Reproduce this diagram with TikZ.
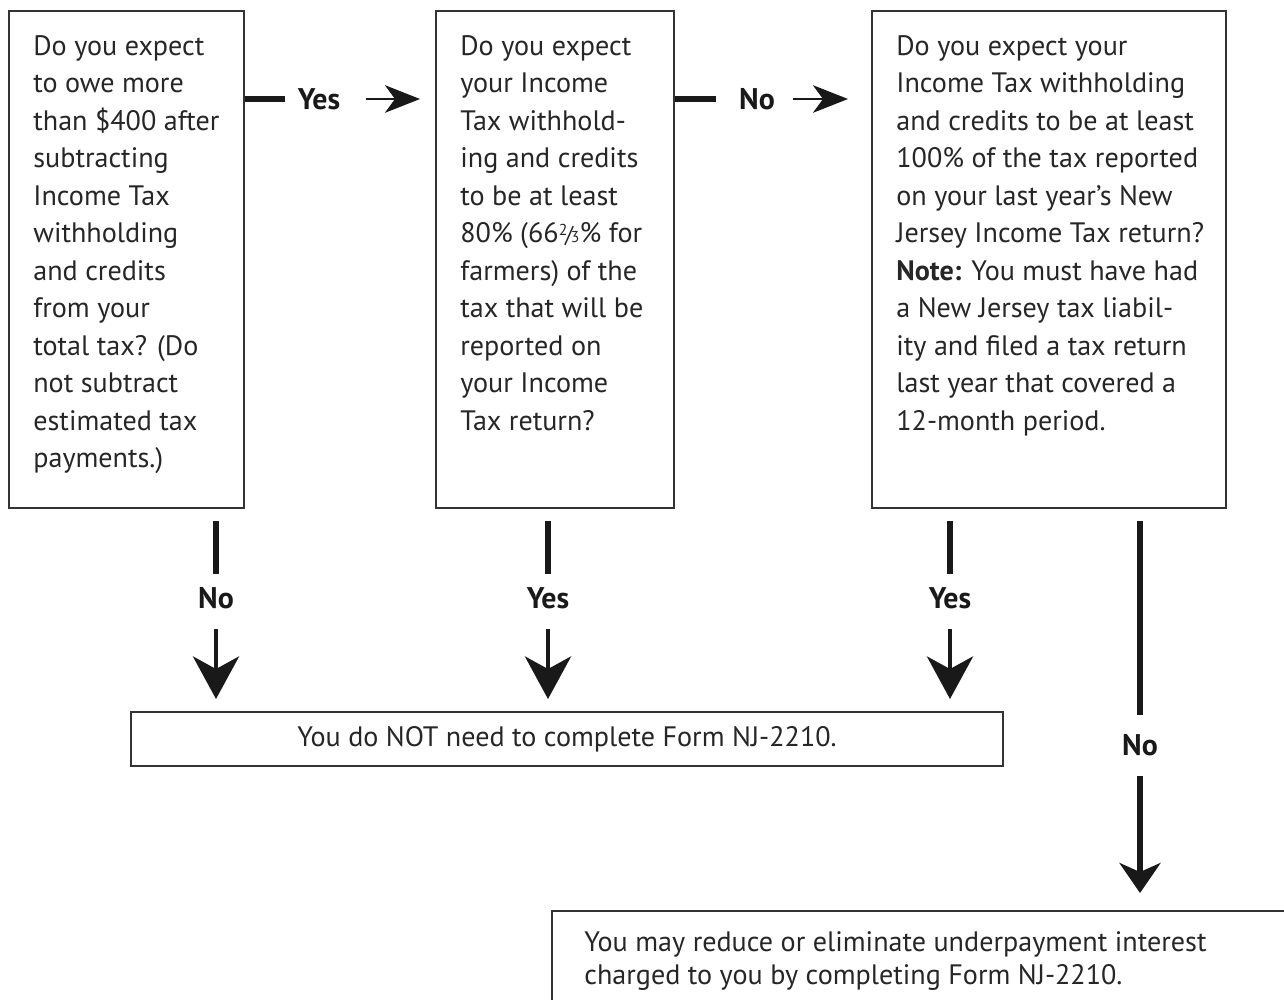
\documentclass[tikz,border=0pt]{standalone}
\usepackage{fontspec}
\setmainfont{PT Sans}
\usetikzlibrary{arrows.meta, calc, positioning}

% small built fraction 2/3
\newcommand{\twothirds}{\raisebox{0.55ex}{\fontsize{9pt}{9pt}\selectfont 2}\kern-0.08em{\fontsize{13pt}{13pt}\selectfont /}\kern-0.08em{\fontsize{9pt}{9pt}\selectfont 3}}

\begin{document}
\begin{tikzpicture}[
	box/.style={draw=black!80, line width=1.1pt, anchor=north west, inner sep=0pt},
	txt/.style={anchor=north west, align=left, inner sep=0pt, text=black!85, font=\fontsize{16pt}{21.34pt}\selectfont},
	lbl/.style={inner sep=0pt, text=black!90, font=\fontsize{17pt}{21.34pt}\selectfont\bfseries},
	bar/.style={black!90, line width=3.9pt},
	harr/.style={black!90, line width=1.6pt, -{Stealth[length=0.7cm, width=0.55cm, inset=0.2cm]}},
	varr/.style={black!90, line width=2.6pt, -{Stealth[length=0.85cm, width=0.92cm, inset=0.25cm]}}
	]
	\useasboundingbox (0,0) rectangle (25.68,-20);
	
	% --- QUESTION BOXES ---
	\node[box, minimum width=4.7cm, minimum height=9.94cm] (q1) at (0.16,-0.2) {};
	\node[box, minimum width=4.76cm, minimum height=9.94cm] (q2) at (8.7,-0.2) {};
	\node[box, minimum width=7.08cm, minimum height=9.94cm] (q3) at (17.42,-0.2) {};
	
	\node[txt] (t1) at ([shift={(0.5,-0.5)}]q1.north west) {
		Do you expect\\ to owe more\\ than \$400 after\\ subtracting\\ Income Tax\\
		withholding\\ and credits\\ from your\\ total tax? (Do\\ not subtract\\
		estimated tax\\ payments.)
	};
	\node[txt] (t2) at ([shift={(0.5,-0.5)}]q2.north west) {
		Do you expect\\ your Income\\ Tax withhold-\\ ing and credits\\ to be at least\\
		80\% (66\twothirds\% for\\ farmers) of the\\ tax that will be\\ reported on\\
		your Income\\ Tax return?
	};
	\node[txt] (t3) at ([shift={(0.5,-0.5)}]q3.north west) {
		Do you expect your\\ Income Tax withholding\\ and credits to be at least\\
		100\% of the tax reported\\ on your last year’s New\\ Jersey Income Tax return?\\
		\textbf{Note:} You must have had\\ a New Jersey tax liabil-\\ ity and filed a tax return\\
		last year that covered a\\ 12-month period.
	};
	
	% --- RESULT BOXES ---
	\node[box, minimum width=17.44cm, minimum height=1.08cm, text=black!85,
	font=\fontsize{16pt}{21.34pt}\selectfont] (q4) at (2.6,-14.22) {You do NOT need to complete Form NJ-2210.};
	\node[box, minimum width=15cm, minimum height=3cm] (q5) at (11.02,-18.2) {};
	\node[txt, font=\fontsize{16pt}{18.8pt}\selectfont] (t5) at ([shift={(0.66,-0.42)}]q5.north west) {
		You may reduce or eliminate underpayment interest\\
		charged to you by completing Form NJ-2210.
	};
	
	% --- HORIZONTAL CONNECTORS ---
	\node[lbl] (yes12) at (6.38,-1.98) {Yes};
	\draw[bar, shorten >=0.26cm] (q1.east |- yes12) -- (yes12.west);
	\draw[harr, shorten <=0.5cm, shorten >=0.3cm] (yes12.east) -- (q2.west |- yes12);
	
	\node[lbl] (no23) at (15.14,-1.98) {No};
	\draw[bar, shorten >=0.46cm] (q2.east |- no23) -- (no23.west);
	\draw[harr, shorten <=0.36cm, shorten >=0.46cm] (no23.east) -- (q3.west |- no23);
	
	% --- VERTICAL CONNECTORS ---
	\node[lbl] (no1) at (4.32,-11.96) {No};
	\node[lbl] (yes2) at (10.96,-11.96) {Yes};
	\node[lbl] (yes3) at (19.0,-11.96) {Yes};
	\foreach \l in {no1, yes2, yes3} {
		\draw[bar, shorten <=0.24cm, shorten >=0.26cm] (\l |- q1.south) -- (\l.north);
		\draw[varr, shorten <=0.4cm, shorten >=0.24cm] (\l.south) -- (\l |- q4.north);
	}
	
	\node[lbl] (no3) at (22.8,-14.9) {No};
	\draw[bar, shorten <=0.24cm, shorten >=0.38cm] (no3 |- q3.south) -- (no3.north);
	\draw[varr, line width=3pt, -{Stealth[length=0.6cm, width=0.82cm, inset=0.18cm]},
	shorten <=0.4cm, shorten >=0.34cm] (no3.south) -- (no3 |- q5.north);
	
\end{tikzpicture}
\end{document}
